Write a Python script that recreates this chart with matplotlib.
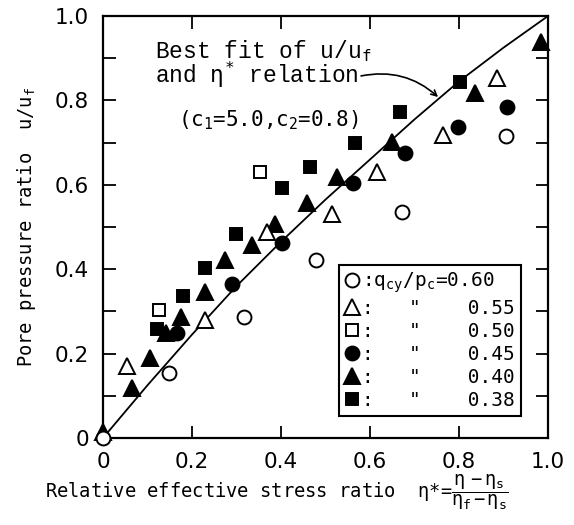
import matplotlib
matplotlib.use("Agg")
import matplotlib.pyplot as plt

plt.rcParams['mathtext.fontset'] = 'custom'
plt.rcParams['mathtext.rm'] = 'DejaVu Sans Mono'
plt.rcParams['mathtext.it'] = 'DejaVu Sans Mono'

# data
fit_x = [0.0, 0.1, 0.2, 0.3, 0.4, 0.5, 0.6, 0.7, 0.8, 0.9, 1.0]
fit_y = [0.0, 0.125, 0.245, 0.36, 0.465, 0.565, 0.66, 0.755, 0.845, 0.925, 1.0]

oc_x = [0.0, 0.148, 0.317, 0.479, 0.672, 0.906]
oc_y = [0.0, 0.154, 0.287, 0.422, 0.536, 0.716]

ot_x = [0.054, 0.229, 0.369, 0.515, 0.616, 0.764, 0.885]
ot_y = [0.171, 0.280, 0.488, 0.531, 0.630, 0.718, 0.853]

os_x = [0.126, 0.353]
os_y = [0.303, 0.630]

fc_x = [0.166, 0.290, 0.402, 0.562, 0.679, 0.798, 0.908]
fc_y = [0.250, 0.365, 0.462, 0.604, 0.675, 0.737, 0.784]

ft_x = [0.0, 0.065, 0.106, 0.142, 0.175, 0.229, 0.274, 0.335, 0.387, 0.458, 0.526, 0.649, 0.836, 0.984]
ft_y = [0.015, 0.118, 0.190, 0.249, 0.287, 0.346, 0.422, 0.457, 0.507, 0.557, 0.618, 0.701, 0.817, 0.938]

fs_x = [0.121, 0.180, 0.229, 0.299, 0.402, 0.465, 0.566, 0.667, 0.802]
fs_y = [0.258, 0.336, 0.403, 0.483, 0.592, 0.642, 0.699, 0.773, 0.844]

ratios = ['0.60', '0.55', '0.50', '0.45', '0.40', '0.38']

fig = plt.figure(figsize=(5.74, 5.25), dpi=100)
ax = fig.add_axes([0.1794, 0.1657, 0.7753, 0.8038])

ax.plot(fit_x, fit_y, color='black', lw=1.3, zorder=2)

kw = dict(linestyle='none', color='black', markeredgewidth=1.4, clip_on=False, zorder=3)
h_fs, = ax.plot(fs_x, fs_y, marker='s', markersize=9, **kw)
h_ft, = ax.plot(ft_x, ft_y, marker='^', markersize=11, **kw)
h_fc, = ax.plot(fc_x, fc_y, marker='o', markersize=10, **kw)
h_os, = ax.plot(os_x, os_y, marker='s', markersize=9, markerfacecolor='white', **kw)
h_ot, = ax.plot(ot_x, ot_y, marker='^', markersize=11, markerfacecolor='white', **kw)
h_oc, = ax.plot(oc_x, oc_y, marker='o', markersize=10, markerfacecolor='white', **kw)

ax.set_xlim(0, 1.0)
ax.set_ylim(0, 1.0)
ax.set_xticks([0, 0.2, 0.4, 0.6, 0.8, 1.0])
ax.set_xticklabels(['0', '0.2', '0.4', '0.6', '0.8', '1.0'])
ax.set_yticks([0, 0.2, 0.4, 0.6, 0.8, 1.0])
ax.set_yticklabels(['0', '0.2', '0.4', '0.6', '0.8', '1.0'])
ax.set_yticks([0.1, 0.3, 0.5, 0.7, 0.9], minor=True)
ax.tick_params(which='both', direction='in', length=9, width=1.3, top=True, right=True,
               labelsize=15.5, pad=10)
for s in ax.spines.values():
    s.set_linewidth(1.6)

ax.set_xlabel(r'Relative effective stress ratio  $\eta$*=$\dfrac{\eta\ -\eta_s}{\eta_f-\eta_s}$',
              family='DejaVu Sans Mono', fontsize=13.5, labelpad=0, ha='left', x=-0.13)
ax.set_ylabel(r'Pore pressure ratio  u/u$_\mathrm{f}$', family='DejaVu Sans Mono',
              fontsize=13.5, labelpad=12)

ax.text(0.117, 0.886, 'Best fit of u/u$_\\mathrm{f}$\nand $\\eta^{*}$ relation',
        family='Liberation Mono', fontsize=16.5, linespacing=0.85, va='center')
ax.annotate('', xy=(0.753, 0.808), xytext=(0.58, 0.858),
            arrowprops=dict(arrowstyle='->', color='black', lw=1.2,
                            connectionstyle='arc3,rad=-0.25',
                            shrinkA=0, shrinkB=0))
ax.text(0.168, 0.752, r'(c$_1$=5.0,c$_2$=0.8)', family='DejaVu Sans Mono', fontsize=15,
        va='center')

labels = [':q$_\\mathrm{cy}$/p$_\\mathrm{c}$=' + ratios[0]] + \
         [':   "    ' + r for r in ratios[1:]]
leg = ax.legend([h_oc, h_ot, h_os, h_fc, h_ft, h_fs], labels, loc='upper left',
                bbox_to_anchor=(0.530, 0.410), frameon=True, fancybox=False,
                edgecolor='black', handlelength=0.8, handletextpad=0.1,
                labelspacing=0.2, borderpad=0.3, borderaxespad=0,
                prop={'family': 'DejaVu Sans Mono', 'size': 14})
leg.get_frame().set_linewidth(1.5)
leg.get_frame().set_alpha(1)

fig.savefig('out.png', dpi=100)
